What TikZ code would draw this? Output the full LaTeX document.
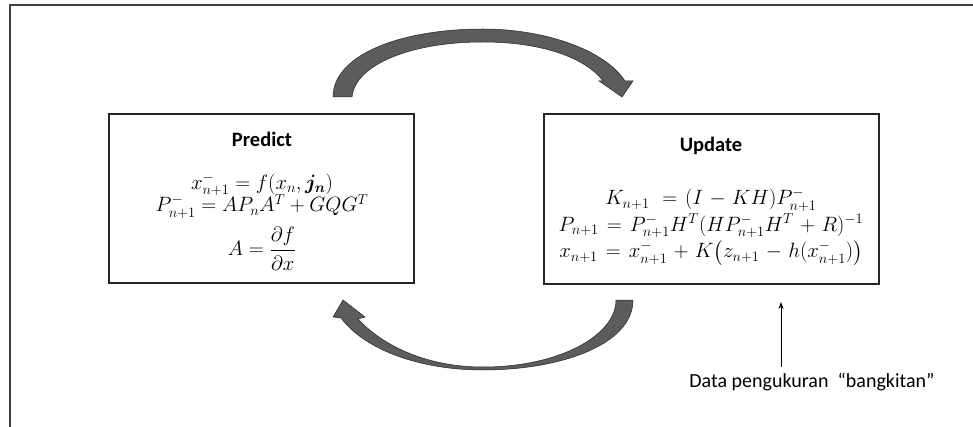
\documentclass[tikz,border=0pt]{standalone}
\usepackage{amsmath}
\usepackage[no-math]{fontspec}
\setmainfont{Carlito}
\usetikzlibrary{arrows.meta}
\newcommand\tightlines{\lineskiplimit=-30pt\relax\lineskip=0pt\relax}
\newcommand\widemath{\thickmuskip=7mu plus 5mu\relax\medmuskip=5.5mu plus 2mu\relax}
\begin{document}
\begin{tikzpicture}[x=1pt,y=-1pt,
  box/.style={draw=black!85,line width=1.1pt,inner sep=0pt},
  title/.style={font=\fontsize{20.5}{23}\selectfont\bfseries,anchor=base,inner sep=0pt},
  eq/.style={font={\fontsize{20}{22.5}\selectfont\tightlines},align=center,anchor=base,inner sep=0pt},
  equ/.style={font={\fontsize{20}{26.5}\selectfont\tightlines\widemath},align=center,anchor=base,inner sep=0pt},
  curved/.style={fill=black!64,draw=black!85,line width=0.5pt},
  label/.style={font=\fontsize{20}{23}\selectfont,anchor=base,inner sep=0pt}]
\useasboundingbox (0,0) rectangle (973,427);
\fill[white] (0,0) rectangle (973,427);
\draw[black!75,line width=1.5pt] (10,427) -- (10,5) -- (973,5);
% boxes
\node[box,minimum width=305pt,minimum height=169pt] (predict) at (261.5,198.5) {};
\node[box,minimum width=335pt,minimum height=170pt] (update) at (711.5,199) {};
% predict texts
\node[title] (ptitle) at (262,147) {Predict};
\node[eq] (p12) at (262,212) {$x^-_{n+1} = f(x_n,\boldsymbol{j_n})$\\$P^-_{n+1} = AP_nA^T + GQG^T$};
\node[eq] (p3) at (262,256) {$A = \dfrac{\partial f}{\partial x}$};
% update texts
\node[title] (utitle) at (711,152) {Update};
\node[equ] (u123) at (711,258) {$K_{n+1}\ = (I - KH)P^-_{n+1}$\\
  $P_{n+1} = P^-_{n+1}H^T(HP^-_{n+1}H^T + R)^{-1}$\\
  $x_{n+1} = x^-_{n+1} + K\bigl(z_{n+1} - h(x^-_{n+1})\bigr)$};
% upper curved arrow (predict -> update)
\draw[curved] (333,97) .. controls (333,55) and (400,29) .. (483,29)
  .. controls (545,29) and (605,50) .. (625,81) -- (633,81) -- (622,97) -- (599,81) -- (603,81)
  .. controls (585,57) and (540,42) .. (483,42)
  .. controls (410,42) and (355,65) .. (352,97) -- cycle;
% lower curved arrow (update -> predict)
\draw[curved] (616,300) -- (633,300) .. controls (633,345) and (560,370) .. (483,370)
  .. controls (420,370) and (365,350) .. (341,318) -- (333,317) -- (343,300) -- (365,317) -- (358,319)
  .. controls (385,348) and (430,367) .. (483,367)
  .. controls (560,367) and (616,335) .. (616,300) -- cycle;
% measurement data
\node[label] (data) at (812,387) {Data pengukuran\ \ “bangkitan”};
\coordinate (dtop) at (781,367);
\coordinate (dtip) at (781,302);
\draw[line width=0.9pt,-{Stealth[length=7pt,width=5pt]}] (dtop) -- (dtip);
\end{tikzpicture}
\end{document}
